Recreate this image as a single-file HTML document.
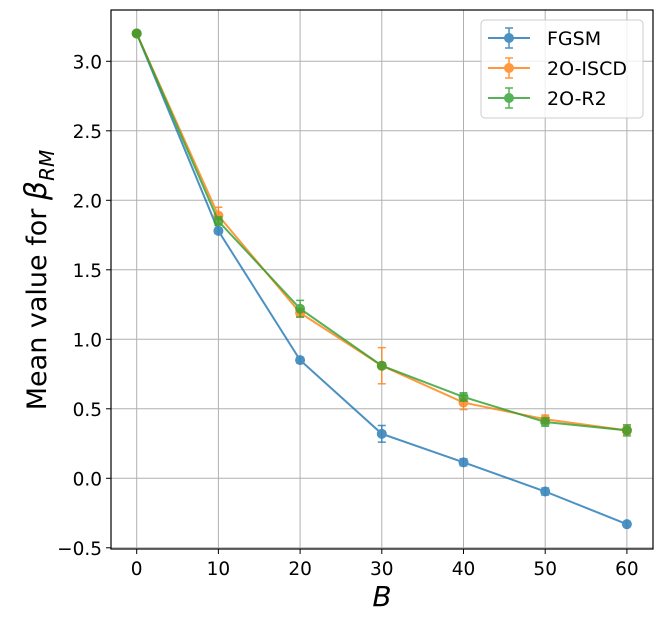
<!DOCTYPE html>
<html><head><meta charset="utf-8"><style>body{margin:0;background:#fff}svg{display:block}text{font-family:"DejaVu Sans","Liberation Sans",sans-serif}</style></head>
<body>
<svg id="chart" width="663" height="623" xmlns="http://www.w3.org/2000/svg"></svg>
<script>
const categories=[0,10,20,30,40,50,60];
const fgsmValues=[3.2,1.78,0.85,0.32,0.115,-0.095,-0.33];
const fgsmErrors=[0,0.02,0.02,0.06,0.025,0.025,0.015];
const iscdValues=[3.2,1.89,1.19,0.81,0.545,0.425,0.345];
const iscdErrors=[0,0.06,0.03,0.13,0.05,0.03,0.03];
const r2Values=[3.2,1.85,1.22,0.81,0.585,0.405,0.345];
const r2Errors=[0,0.03,0.06,0.02,0.03,0.03,0.04];
const xTicks=[0,10,20,30,40,50,60];
const yTicks=[-0.5,0,0.5,1,1.5,2,2.5,3];
const yTickLabels=["\u22120.5","0.0","0.5","1.0","1.5","2.0","2.5","3.0"];
const L=111,R=653,T=10,B=549;
const xs=v=>136.7+(v-0)*8.17;
const ys=v=>478.3-v*139;
const svg=document.getElementById('chart');
const NS='http://www.w3.org/2000/svg';
function mk(tag,attrs,parent){const e=document.createElementNS(NS,tag);for(const k in attrs)e.setAttribute(k,attrs[k]);(parent||svg).appendChild(e);return e;}
const grid=mk('g',{});


xTicks.forEach(t=>{const x=xs(t);mk('line',{x1:x,x2:x,y1:T,y2:B,stroke:'#b0b0b0','stroke-width':1},grid);
mk('line',{x1:x,x2:x,y1:B,y2:B+5,stroke:'#000'});
const tx=mk('text',{x:x,y:B+26,'font-size':18.5,'text-anchor':'middle'});tx.textContent=t;

});
yTicks.forEach((t,i)=>{const y=ys(t);mk('line',{x1:L,x2:R,y1:y,y2:y,stroke:'#b0b0b0','stroke-width':1},grid);
mk('line',{x1:L-5,x2:L,y1:y,y2:y,stroke:'#000'});
const tx=mk('text',{x:L-9,y:y+7,'font-size':18.5,'text-anchor':'end'});tx.textContent=yTickLabels[i];

});
const series=[[fgsmValues,fgsmErrors,'#1f77b4','FGSM'],[iscdValues,iscdErrors,'#ff7f0e','2O-ISCD'],[r2Values,r2Errors,'#2ca02c','2O-R2']];
series.forEach(([vals,errs,c,name])=>{
const g=mk('g',{opacity:0.8});


mk('polyline',{points:categories.map((v,i)=>xs(v)+','+ys(vals[i])).join(' '),fill:'none',stroke:c,'stroke-width':2},g);
categories.forEach((v,i)=>{const x=xs(v);const y1=ys(vals[i]+errs[i]),y2=ys(vals[i]-errs[i]);
if(errs[i]>0){mk('line',{x1:x,x2:x,y1:y1,y2:y2,stroke:c,'stroke-width':1.5},g);
mk('line',{x1:x-4,x2:x+4,y1:y1,y2:y1,stroke:c,'stroke-width':1.5},g);
mk('line',{x1:x-4,x2:x+4,y1:y2,y2:y2,stroke:c,'stroke-width':1.5},g);}
const p=mk('circle',{cx:x,cy:ys(vals[i]),r:5,fill:c},g);

});
});
const frame=mk('rect',{x:L,y:T,width:R-L,height:B-T,fill:'none',stroke:'#000','stroke-width':1.2});


const lg=mk('g',{});


mk('rect',{x:481,y:20,width:162,height:98,rx:4,fill:'#fff','fill-opacity':0.8,stroke:'#ccc'},lg);
series.forEach(([v,e,c,name],i)=>{const y=38+i*30;
const eg=mk('g',{opacity:0.8},lg);


mk('line',{x1:488,x2:530,y1:y,y2:y,stroke:c,'stroke-width':2},eg);
mk('line',{x1:509,x2:509,y1:y-10,y2:y+10,stroke:c,'stroke-width':1.5},eg);
mk('line',{x1:505,x2:513,y1:y-10,y2:y-10,stroke:c,'stroke-width':1.5},eg);
mk('line',{x1:505,x2:513,y1:y+10,y2:y+10,stroke:c,'stroke-width':1.5},eg);
mk('circle',{cx:509,cy:y,r:5,fill:c},eg);
const t=mk('text',{x:547,y:y+7,'font-size':19},lg);t.textContent=name;});
const xt=mk('text',{x:382,y:606,'font-size':28,'font-style':'italic','text-anchor':'middle'});xt.textContent='B';


const yt=mk('text',{x:0,y:0,'font-size':27,'text-anchor':'middle',transform:'translate(46,280) rotate(-90)'});
yt.innerHTML='Mean value for <tspan font-style="italic" font-size="30">β</tspan><tspan font-style="italic" font-size="20" dy="8">RM</tspan>';


</script>
</body></html>
